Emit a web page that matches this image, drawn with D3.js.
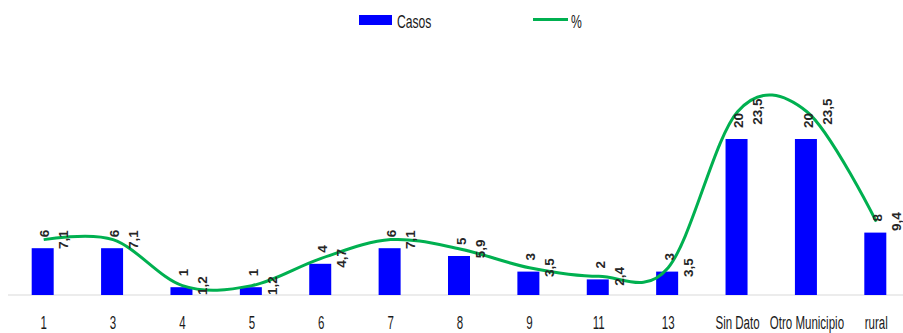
<!DOCTYPE html>
<html><head><meta charset="utf-8">
<script src="https://cdn.jsdelivr.net/npm/d3@7"></script>
<style>body{margin:0;background:#fff}svg{display:block}</style>
</head><body>
<svg id="c" width="903" height="333"></svg>
<script>
const categories = ["1","3","4","5","6","7","8","9","11","13","Sin Dato","Otro Municipio","rural"];
const casos = [6,6,1,1,4,6,5,3,2,3,20,20,8];
const pct = [7.1,7.1,1.2,1.2,4.7,7.1,5.9,3.5,2.4,3.5,23.5,23.5,9.4];
const legendLabels = ["Casos","%"];

const svg = d3.select("#c");
const font = "'Liberation Sans',Arial,sans-serif";
const sx = 0.64;
const x = d3.scaleBand().domain(categories).range([9, 911]).padding(0);
const y = d3.scaleLinear().domain([0, 25]).range([295, 100]);
const bw = 22;
const cx = d => x(d) + x.bandwidth()/2;

// baseline
svg.append("line").attr("x1", 8).attr("x2", 903).attr("y1", y(0)).attr("y2", y(0))
  .attr("stroke", "#d9d9d9").attr("stroke-width", 1);

// bars
svg.selectAll("rect.bar").data(categories).join("rect").attr("class","bar")
  .attr("x", d => cx(d) - bw/2 - 1).attr("width", bw)
  .attr("y", (d,i) => y(casos[i])).attr("height", (d,i) => y(0) - y(casos[i]))
  .attr("fill", "#0000ff");

// line
const line = d3.line().x((d,i) => cx(categories[i])).y(d => y(d)).curve(d3.curveCardinal.tension(0));
svg.append("path").datum(pct).attr("d", line).attr("fill","none")
  .attr("stroke", "#00b050").attr("stroke-width", 3);

// casos labels
svg.selectAll("text.cl").data(categories).join("text").attr("class","cl")
  .attr("transform", (d,i) => `translate(${cx(d)+1},${y(casos[i]) - 11}) rotate(-90)`)
  .attr("dy", "0.35em")
  .attr("text-anchor","start").attr("font-family",font).attr("font-weight","bold")
  .attr("font-size", 13.5).attr("fill","#262626")
  .text((d,i) => casos[i]);

// pct labels
svg.selectAll("text.pl").data(categories).join("text").attr("class","pl")
  .attr("transform", (d,i) => `translate(${cx(d)+20},${y(pct[i])}) rotate(-90)`)
  .attr("dy", "0.35em")
  .attr("text-anchor","middle").attr("font-family",font).attr("font-weight","bold")
  .attr("font-size", 13.5).attr("fill","#262626")
  .text((d,i) => String(pct[i]).replace(".", ","));

// x axis labels (condensed)
svg.selectAll("text.xl").data(categories).join("text").attr("class","xl")
  .attr("transform", d => `translate(${cx(d)},329) scale(${sx},1)`)
  .attr("text-anchor","middle")
  .attr("font-family", font).attr("font-size", 18).attr("fill","#1a1a1a")
  .text(d => d);

// legend
const lg = svg.append("g");
lg.append("rect").attr("x", 359).attr("y", 15).attr("width", 33).attr("height", 10).attr("fill", "#0000ff");
lg.append("text").attr("transform", `translate(397,28) scale(${sx},1)`).attr("font-family", font).attr("font-size", 19).attr("fill","#1a1a1a").text(legendLabels[0]);
lg.append("line").attr("x1", 533).attr("x2", 568).attr("y1", 19.5).attr("y2", 19.5).attr("stroke", "#00b050").attr("stroke-width", 3);
lg.append("text").attr("transform", `translate(571,28) scale(${sx},1)`).attr("font-family", font).attr("font-size", 19).attr("fill","#1a1a1a").text(legendLabels[1]);
</script>
</body></html>
